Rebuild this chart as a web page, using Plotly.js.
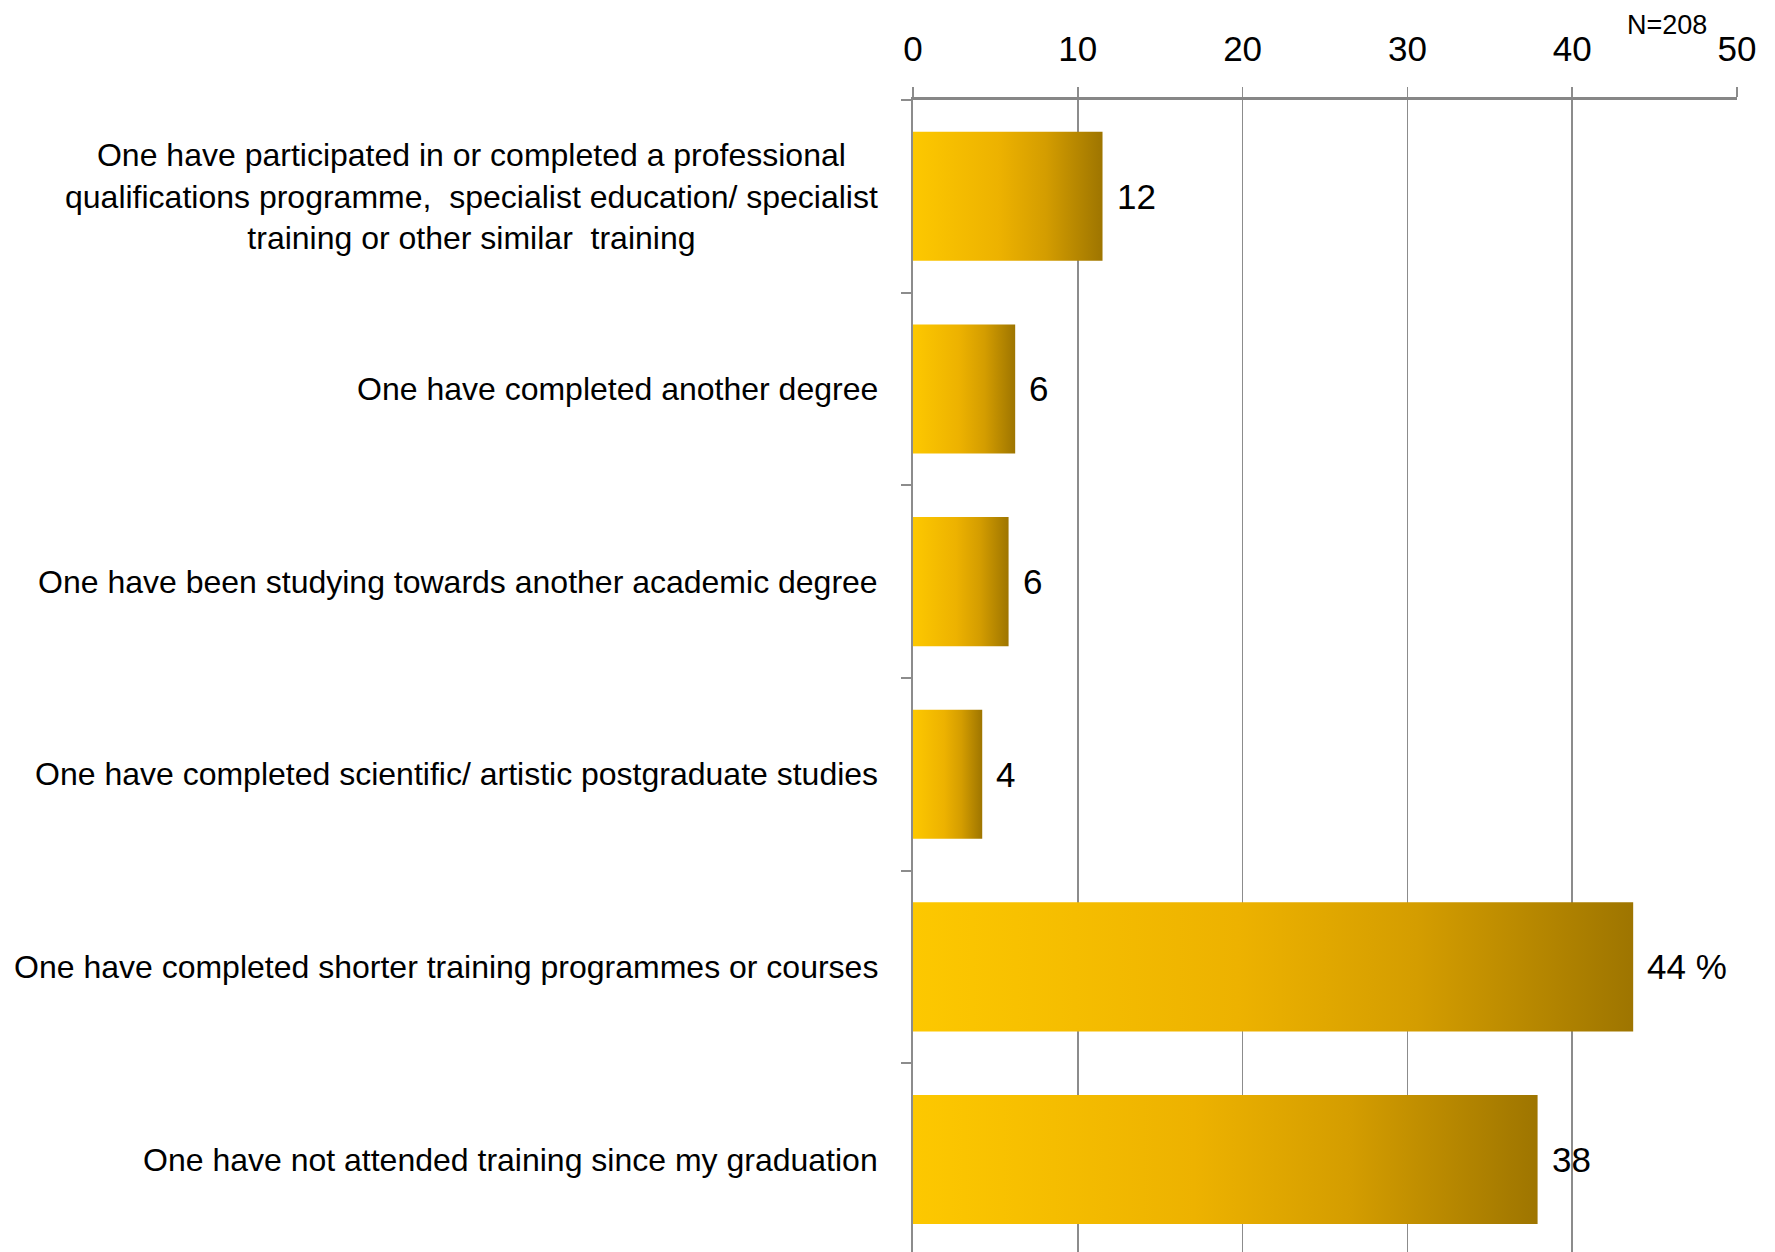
<!DOCTYPE html>
<html>
<head>
<meta charset="utf-8">
<script src="https://cdn.plot.ly/plotly-3.0.1.min.js"></script>
<style>
  html, body { margin: 0; padding: 0; background: #ffffff; }
  #chart { width: 1775px; height: 1252px; }
</style>
</head>
<body>
<div id="chart"></div>
<script>
// ---- data ----
const categories = [
  "One have participated in or completed a professional<br>qualifications programme,  specialist education/ specialist<br>training or other similar  training",
  "One have completed another degree",
  "One have been studying towards another academic degree",
  "One have completed scientific/ artistic postgraduate studies",
  "One have completed shorter training programmes or courses",
  "One have not attended training since my graduation"
];
const values = [11.5, 6.2, 5.8, 4.2, 43.7, 37.9];
const valueLabels = ["12", "6", "6", "4", "44 %", "38"];
const xTicks = [0, 10, 20, 30, 40, 50];
const note = "N=208";

// ---- style ----
const FONT = "'Liberation Sans Narrow', 'Liberation Sans', Arial, sans-serif";
const catIds = categories.map((c, i) => "c" + i);

const trace = {
  type: "bar",
  orientation: "h",
  x: values,
  y: catIds,
  width: 0.67,
  marker: { color: "#E6AA00", line: { width: 0 } },
  hoverinfo: "skip"
};

const annotations = [];
categories.forEach((c, i) => {
  annotations.push({
    xref: "paper", yref: "y",
    x: -0.04, y: catIds[i],
    xanchor: "right", yanchor: "middle",
    align: "center",
    text: c,
    showarrow: false,
    font: { family: FONT, size: 32, color: "#000" }
  });
  annotations.push({
    xref: "x", yref: "y",
    x: values[i], y: catIds[i],
    xanchor: "left", yanchor: "middle",
    xshift: 12,
    text: valueLabels[i],
    showarrow: false,
    font: { family: FONT, size: 35, color: "#000" }
  });
});
annotations.push({
  xref: "paper", yref: "paper",
  x: 0.915, y: 1.0,
  xanchor: "center", yanchor: "bottom",
  yshift: 58,
  text: note,
  showarrow: false,
  font: { family: FONT, size: 27, color: "#000" }
});

const layout = {
  width: 1775, height: 1252,
  margin: { l: 913, r: 38, t: 100, b: 0 },
  paper_bgcolor: "#ffffff",
  plot_bgcolor: "#ffffff",
  showlegend: false,
  bargap: 0.33,
  xaxis: {
    side: "top",
    range: [0, 50],
    tickvals: xTicks,
    ticktext: xTicks.map(String),
    showgrid: true,
    gridcolor: "#8C8C8C",
    gridwidth: 1.5,
    zeroline: false,
    showline: true,
    linecolor: "#878787",
    linewidth: 3,
    ticks: "outside",
    ticklen: 10,
    tickcolor: "#8C8C8C",
    tickwidth: 1.5,
    ticklabelstandoff: 12,
    tickfont: { family: FONT, size: 35, color: "#000" },
    fixedrange: true
  },
  yaxis: {
    type: "category",
    categoryorder: "array",
    categoryarray: catIds,
    range: [5.48, -0.5],
    showticklabels: false,
    showgrid: false,
    zeroline: false,
    showline: true,
    linecolor: "#8C8C8C",
    linewidth: 2,
    ticks: "outside",
    tickson: "boundaries",
    ticklen: 10,
    tickcolor: "#8C8C8C",
    tickwidth: 2,
    fixedrange: true
  },
  annotations: annotations
};

Plotly.newPlot("chart", [trace], layout, { staticPlot: true, displayModeBar: false }).then(gd => {
  const ns = "http://www.w3.org/2000/svg";
  const svg = gd.querySelector("svg.main-svg");
  let defs = svg.querySelector("defs");
  if (!defs) { defs = document.createElementNS(ns, "defs"); svg.insertBefore(defs, svg.firstChild); }
  const lg = document.createElementNS(ns, "linearGradient");
  lg.setAttribute("id", "barGrad");
  lg.setAttribute("x1", "0"); lg.setAttribute("y1", "0");
  lg.setAttribute("x2", "1"); lg.setAttribute("y2", "0");
  [["0", "#FDC800"], ["0.45", "#EDB200"], ["0.7", "#D49D00"], ["1", "#9E7500"]].forEach(s => {
    const st = document.createElementNS(ns, "stop");
    st.setAttribute("offset", s[0]);
    st.setAttribute("stop-color", s[1]);
    lg.appendChild(st);
  });
  defs.appendChild(lg);
  gd.querySelectorAll(".barlayer .point path").forEach(p => { p.style.fill = "url(#barGrad)"; });
});
</script>
</body>
</html>
